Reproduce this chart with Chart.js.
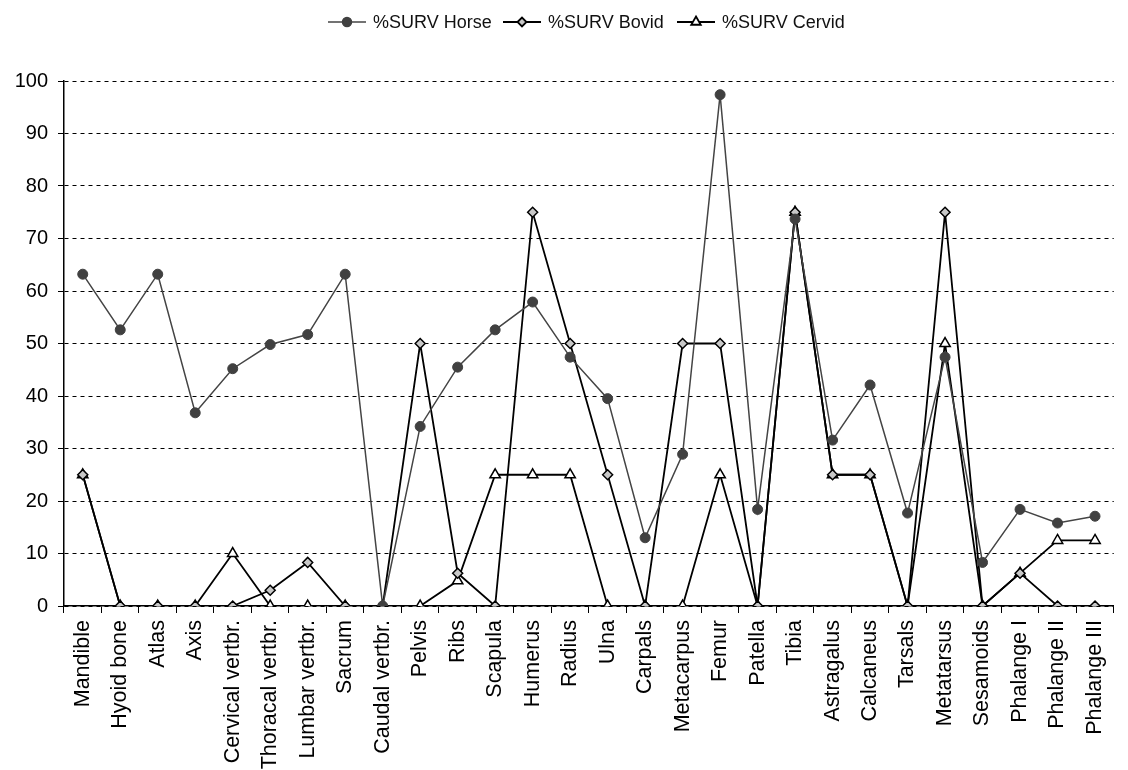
<!DOCTYPE html>
<html>
<head>
<meta charset="utf-8">
<script src="https://cdn.jsdelivr.net/npm/chart.js@4.4.0/dist/chart.umd.min.js"></script>
<style>
  html, body { margin: 0; padding: 0; background: #fff; }
  #wrap { width: 1128px; height: 770px; }
</style>
</head>
<body>
<div id="wrap"><canvas id="chart" width="1128" height="770"></canvas></div>
<script>
// skeletal elements
const bones = ["Mandible", "Hyoid bone", "Atlas", "Axis", "Cervical vertbr.", "Thoracal vertbr.",
    "Lumbar vertbr.", "Sacrum", "Caudal vertbr.", "Pelvis", "Ribs", "Scapula", "Humerus", "Radius",
    "Ulna", "Carpals", "Metacarpus", "Femur", "Patella", "Tibia", "Astragalus", "Calcaneus",
    "Tarsals", "Metatarsus", "Sesamoids", "Phalange I", "Phalange II", "Phalange III"];

// %SURV values
const survHorse = [63.2, 52.6, 63.2, 36.8, 45.2, 49.8, 51.7, 63.2, 0, 34.2, 45.5, 52.6, 57.9, 47.4,
    39.5, 13.0, 28.9, 97.4, 18.4, 73.7, 31.6, 42.1, 17.7, 47.4, 8.3, 18.4, 15.8, 17.1];
const survBovid = [25, 0, 0, 0, 0, 3, 8.3, 0, 0, 50, 6.25, 0, 75, 50,
    25, 0, 50, 50, 0, 75, 25, 25, 0, 75, 0, 6.25, 0, 0];
const survCervid = [25, 0, 0, 0, 10, 0, 0, 0, 0, 0, 4.8, 25, 25, 25,
    0, 0, 0, 25, 0, 75, 25, 25, 0, 50, 0, 6.25, 12.5, 12.5];

const yTicks = { min: 0, max: 100, step: 10 };

// ============================
// LEGEND (line + marker + text)
// ============================
const lineLegend = {
    id: "lineLegend",
    afterDraw(chart) {
        const ctx = chart.ctx;
        const starts = [328, 503, 677];
        const y = 22;
        ctx.save();
        chart.data.datasets.forEach(function (ds, i) {
            const x = starts[i];
            ctx.strokeStyle = ds.borderColor;
            ctx.lineWidth = ds.borderWidth;
            ctx.beginPath();
            ctx.moveTo(x, y);
            ctx.lineTo(x + 38, y);
            ctx.stroke();
            ctx.fillStyle = ds.pointBackgroundColor;
            ctx.strokeStyle = ds.pointBorderColor;
            Chart.helpers.drawPoint(ctx, {
                pointStyle: ds.pointStyle,
                radius: ds.pointRadius - 0.5,
                borderWidth: ds.pointBorderWidth
            }, x + 19, y);
            ctx.fillStyle = "#111";
            ctx.font = "18px 'Liberation Sans', Arial, sans-serif";
            ctx.textBaseline = "middle";
            ctx.textAlign = "left";
            ctx.fillText(ds.label, x + 45, y + 1);
        });
        ctx.restore();
    }
};

new Chart(document.getElementById("chart"), {
    type: "line",
    data: {
        labels: bones,
        datasets: [{
            label: "%SURV Horse",
            data: survHorse,
            borderColor: "#444",
            borderWidth: 1.5,
            pointStyle: "circle",
            pointRadius: 5,
            pointBackgroundColor: "#404040",
            pointBorderColor: "#404040",
            pointBorderWidth: 1,
            tension: 0
        }, {
            label: "%SURV Bovid",
            data: survBovid,
            borderColor: "#000",
            borderWidth: 1.8,
            pointStyle: "rectRot",
            pointRadius: 5,
            pointBackgroundColor: "#c8c8c8",
            pointBorderColor: "#000",
            pointBorderWidth: 1.5,
            tension: 0
        }, {
            label: "%SURV Cervid",
            data: survCervid,
            borderColor: "#000",
            borderWidth: 1.8,
            pointStyle: "triangle",
            pointRadius: 6,
            pointBackgroundColor: "#fff",
            pointBorderColor: "#000",
            pointBorderWidth: 1.5,
            tension: 0
        }]
    },
    options: {
        responsive: false,
        animation: false,
        layout: { padding: { top: 81, right: 10, left: 0, bottom: 0 } },
        plugins: {
            legend: { display: false },
            tooltip: { enabled: false }
        },
        scales: {
            x: {
                offset: true,
                afterFit: function (scale) { scale.height = 164; },
                grid: {
                    offset: true,
                    drawOnChartArea: false,
                    drawTicks: true,
                    tickLength: 7,
                    color: "#000"
                },
                border: { color: "#000", width: 1.5 },
                ticks: {
                    autoSkip: false,
                    minRotation: 90,
                    maxRotation: 90,
                    padding: 7,
                    color: "#000",
                    font: { family: "'Liberation Sans', Arial, sans-serif", size: 21.5 }
                }
            },
            y: {
                min: yTicks.min,
                max: yTicks.max,
                afterFit: function (scale) { scale.width = 64; },
                grid: {
                    color: "#000",
                    lineWidth: 1,
                    tickLength: 6,
                    tickBorderDash: []
                },
                border: { color: "#000", width: 1.5, dash: [4, 4] },
                ticks: {
                    stepSize: yTicks.step,
                    padding: 10,
                    color: "#000",
                    font: { family: "'Liberation Sans', Arial, sans-serif", size: 20 }
                }
            }
        }
    },
    plugins: [lineLegend]
});
</script>
</body>
</html>
